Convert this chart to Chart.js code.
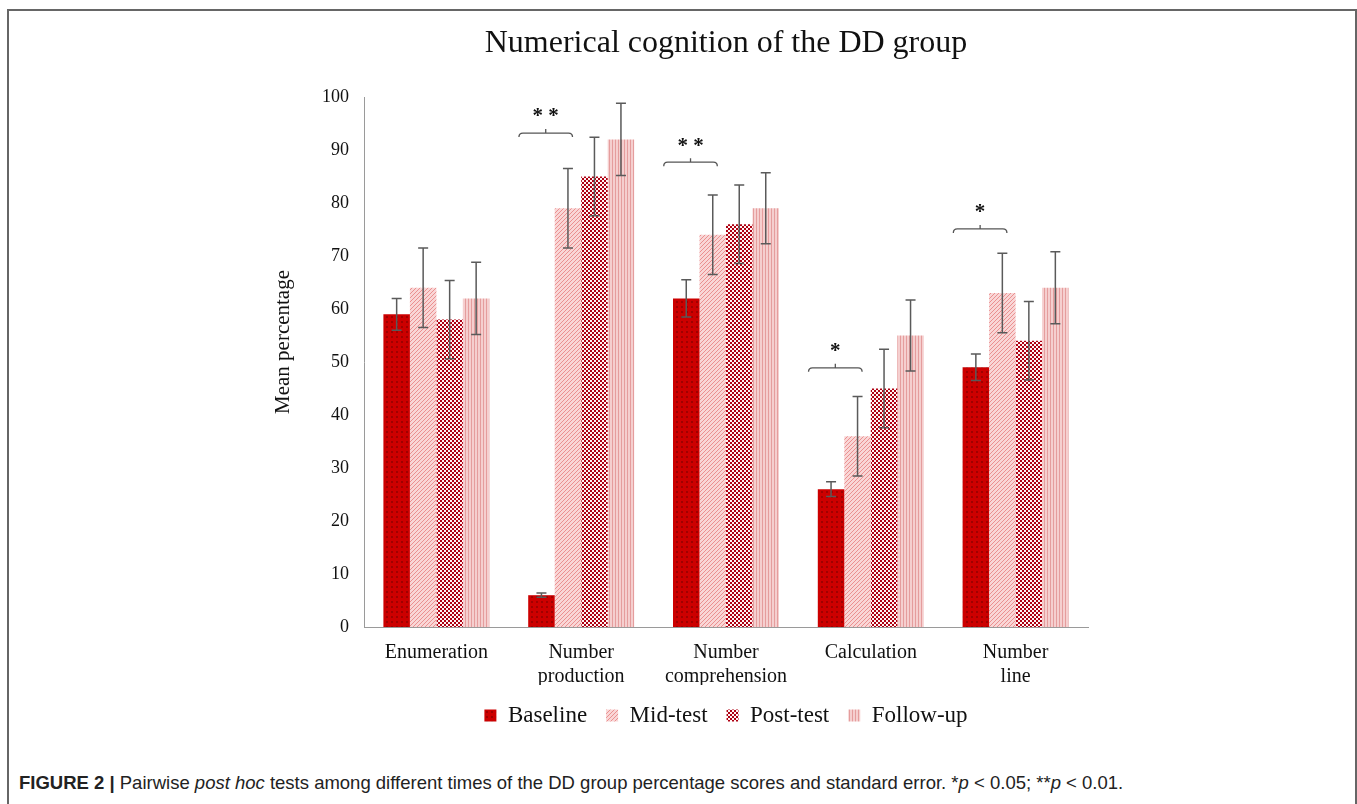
<!DOCTYPE html>
<html>
<head>
<meta charset="utf-8">
<script src="https://cdn.jsdelivr.net/npm/chart.js@4.4.0/dist/chart.umd.min.js"></script>
<style>
  html, body { margin: 0; padding: 0; background: #fff; width: 1357px; height: 804px; overflow: hidden; }
  #frame { position: absolute; left: 7px; top: 9px; width: 1346px; height: 820px; border-left: 2px solid #666; border-top: 2px solid #666; border-right: 2px solid #666; }
  #wrap { position: absolute; left: 0; top: 0; width: 1357px; height: 760px; }
  #caption { position: absolute; left: 19px; top: 772px; font-family: "Liberation Sans", Arial, sans-serif; font-size: 18.5px; color: #222; white-space: nowrap; }
  #caption b { font-weight: bold; }
</style>
</head>
<body>
<div id="frame"></div>
<div id="wrap"><canvas id="c" width="1357" height="760"></canvas></div>
<div id="caption"><b>FIGURE 2 |</b> Pairwise <i>post hoc</i> tests among different times of the DD group percentage scores and standard error. *<i>p</i> &lt; 0.05; **<i>p</i> &lt; 0.01.</div>
<script>
// ---- data ----
const categories = ['Enumeration', ['Number', 'production'], ['Number', 'comprehension'], 'Calculation', ['Number', 'line']];
const seriesNames = ['Baseline', 'Mid-test', 'Post-test', 'Follow-up'];
const baseline = [59, 6, 62, 26, 49];
const midTest = [64, 79, 74, 36, 63];
const postTest = [58, 85, 76, 45, 54];
const followUp = [62, 92, 79, 55, 64];
const baselineErr = [3, 0.4, 3.5, 1.4, 2.5];
const midTestErr = [7.5, 7.5, 7.5, 7.5, 7.5];
const postTestErr = [7.4, 7.4, 7.4, 7.4, 7.4];
const followUpErr = [6.8, 6.8, 6.7, 6.7, 6.8];
const yTicks = [0, 10, 20, 30, 40, 50, 60, 70, 80, 90, 100];
// significance brackets (Baseline vs Mid-test)
const sigCategory = [1, 2, 3, 4];
const sigLevel = [93.2, 87.7, 48.9, 75.1];
const sigLabel = ['**', '**', '*', '*'];

// ---- patterns ----
function makeTile(w, h, draw) {
  const c = document.createElement('canvas');
  c.width = w; c.height = h;
  const g = c.getContext('2d');
  draw(g);
  return document.getElementById('c').getContext('2d').createPattern(c, 'repeat');
}
const patBaseline = makeTile(5, 5, g => {
  g.fillStyle = '#cc0000'; g.fillRect(0, 0, 5, 5);
  g.fillStyle = '#a00000'; g.fillRect(1, 1, 2, 2);
});
const patMid = makeTile(4, 4, g => {
  g.fillStyle = '#f9d6d6'; g.fillRect(0, 0, 4, 4);
  g.fillStyle = '#ea9090';
  for (let i = 0; i < 4; i++) { g.fillRect(i, 3 - i, 1, 1); }
});
const patPost = makeTile(4, 4, g => {
  g.fillStyle = '#fff4f4'; g.fillRect(0, 0, 4, 4);
  g.fillStyle = '#ad0012'; g.fillRect(0, 0, 2, 2); g.fillRect(2, 2, 2, 2);
});
const patFollow = makeTile(3, 3, g => {
  g.fillStyle = '#f5cfcf'; g.fillRect(0, 0, 3, 3);
  g.fillStyle = '#e59d9d'; g.fillRect(0, 0, 1, 3);
});

const values = [baseline, midTest, postTest, followUp];
const errors = [baselineErr, midTestErr, postTestErr, followUpErr];
const fills = [patBaseline, patMid, patPost, patFollow];

const serif = '"Liberation Serif", "Times New Roman", serif';

const extrasPlugin = {
  id: 'extras',
  afterDatasetsDraw(chart) {
    const ctx = chart.ctx;
    const y = chart.scales.y;
    const x = chart.scales.x;
    ctx.save();
    // error bars
    ctx.strokeStyle = '#5a5a5a';
    ctx.lineWidth = 1.5;
    chart.data.datasets.forEach((ds, di) => {
      const meta = chart.getDatasetMeta(di);
      meta.data.forEach((bar, i) => {
        const v = ds.data[i], e = errors[di][i];
        const yt = y.getPixelForValue(v + e), yb = y.getPixelForValue(v - e);
        const cx = bar.x, cap = 5;
        ctx.beginPath();
        ctx.moveTo(cx, yt); ctx.lineTo(cx, yb);
        ctx.moveTo(cx - cap, yt); ctx.lineTo(cx + cap, yt);
        ctx.moveTo(cx - cap, yb); ctx.lineTo(cx + cap, yb);
        ctx.stroke();
      });
    });
    // significance brackets
    const cw = (x.right - x.left) / categories.length;
    ctx.strokeStyle = '#555';
    ctx.lineWidth = 1.3;
    ctx.fillStyle = '#111';
    ctx.font = 'bold 21px ' + serif;
    ctx.textAlign = 'center';
    ctx.textBaseline = 'middle';
    sigCategory.forEach((ci, k) => {
      const cx = x.getPixelForValue(ci);
      const x0 = cx - 0.43 * cw, x1 = cx - 0.06 * cw;
      const mid = (x0 + x1) / 2;
      const yy = y.getPixelForValue(sigLevel[k]);
      ctx.beginPath();
      ctx.moveTo(x0, yy + 4);
      ctx.quadraticCurveTo(x0, yy, x0 + 4, yy);
      ctx.lineTo(x1 - 4, yy);
      ctx.quadraticCurveTo(x1, yy, x1, yy + 4);
      ctx.moveTo(mid, yy); ctx.lineTo(mid, yy - 4);
      ctx.stroke();
      ctx.fillText(sigLabel[k].split('').join(' '), mid, yy - 16);
    });
    // y axis title
    ctx.save();
    ctx.translate(283, 342);
    ctx.rotate(-Math.PI / 2);
    ctx.font = '21px ' + serif;
    ctx.fillStyle = '#111';
    ctx.fillText('Mean percentage', 0, 0);
    ctx.restore();
    ctx.restore();
  }
};

new Chart(document.getElementById('c'), {
  type: 'bar',
  data: {
    labels: categories,
    datasets: seriesNames.map((n, i) => ({
      label: n,
      data: values[i],
      backgroundColor: fills[i],
      borderWidth: 0,
      categoryPercentage: 0.732,
      barPercentage: 1.0
    }))
  },
  options: {
    responsive: false,
    animation: false,
    layout: { padding: { left: 0, right: 269, top: 0, bottom: 23 } },
    plugins: {
      title: {
        display: true,
        text: 'Numerical cognition of the DD group',
        fullSize: false,
        color: '#111',
        font: { family: serif, size: 32, weight: 'normal', lineHeight: 1.2 },
        padding: { top: 24.8, bottom: 33.8 }
      },
      legend: {
        position: 'bottom',
        fullSize: false,
        labels: {
          boxWidth: 12, boxHeight: 12, padding: 19,
          color: '#111',
          font: { family: serif, size: 23 }
        }
      },
      tooltip: { enabled: false }
    },
    scales: {
      x: {
        grid: { display: false, drawTicks: false },
        border: { display: true, color: '#9a9a9a', width: 1 },
        ticks: { color: '#111', font: { family: serif, size: 20, lineHeight: 1.2 }, padding: 14, maxRotation: 0, autoSkip: false },
        afterFit: s => { s.height = 58; }
      },
      y: {
        min: 0, max: 100,
        afterBuildTicks: s => { s.ticks = yTicks.map(v => ({ value: v })); },
        grid: { display: false, drawTicks: false },
        border: { display: true, color: '#9a9a9a', width: 1 },
        ticks: { color: '#111', font: { family: serif, size: 18 }, padding: 15 },
        afterFit: s => { s.width = 364; }
      }
    }
  },
  plugins: [extrasPlugin]
});
</script>
</body>
</html>
